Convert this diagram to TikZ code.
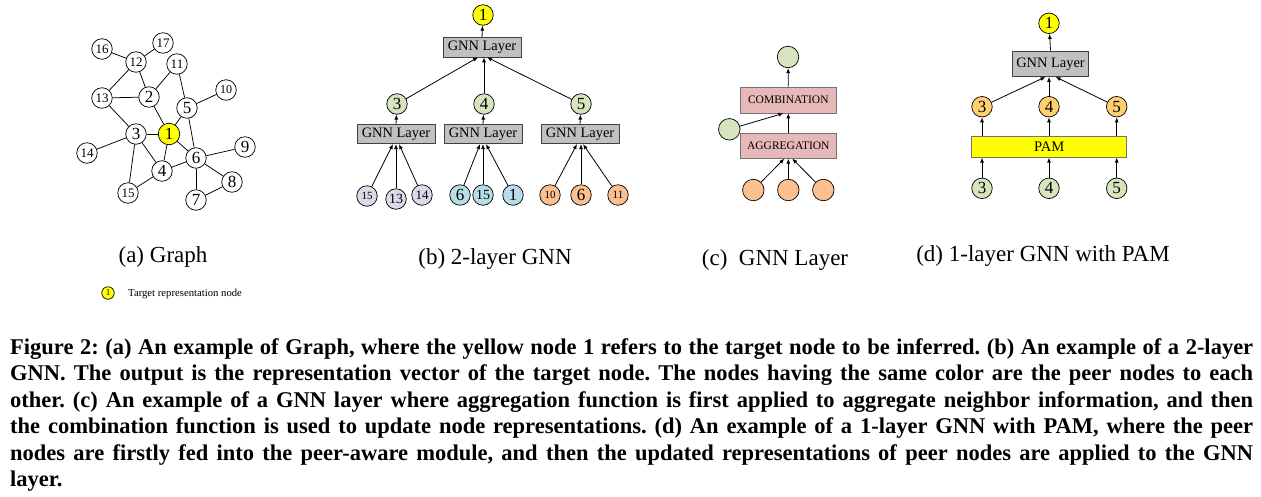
\documentclass[tikz,border=0pt]{standalone}
\usepackage{fontspec}
\setmainfont{Liberation Serif}
\usetikzlibrary{arrows.meta}
\definecolor{yl}{HTML}{FFFF00}
\definecolor{gr}{HTML}{D7E4BD}
\definecolor{lav}{HTML}{DDD8EA}
\definecolor{blu}{HTML}{B7DEE8}
\definecolor{org}{HTML}{FAC090}
\definecolor{orgd}{HTML}{FFD070}
\definecolor{gbox}{HTML}{C0C0C0}
\definecolor{pbox}{HTML}{E6B9B8}
\newcommand{\fs}[1]{\fontsize{#1pt}{#1pt}\selectfont}
\frenchspacing
\begin{document}
\begin{tikzpicture}[x=1pt,y=-1pt,
  gn/.style={circle,draw,line width=0.7pt,minimum size=20.5pt,inner sep=0pt,font=\fs{17}},
  gs/.style={gn,font=\fs{13}},
  edge/.style={line width=0.75pt},
  arr/.style={line width=0.8pt,-{Latex[length=5pt,width=4pt]}},
  gnnbox/.style={draw=black!75,fill=gbox,line width=0.7pt,minimum width=78pt,minimum height=19.5pt,inner sep=0pt,font=\fs{14.4}},
  pinkbox/.style={draw=black!55,fill=pbox,line width=0.7pt,minimum width=96.5pt,minimum height=26pt,inner sep=0pt,font=\fs{11.5}},
  lbl/.style={font=\fs{23},anchor=base,inner sep=0pt},
  capline/.style={anchor=base west,inner sep=0pt,font=\fs{22.5}\bfseries}
]
\useasboundingbox (0,0) rectangle (1261,496);

% ---------- (a) Graph ----------
\node[gs] (g16) at (102,49) {16};
\node[gs] (g17) at (163,43) {17};
\node[gs] (g12) at (136,62) {12};
\node[gs] (g11) at (177,64) {11};
\node[gs] (g13) at (102,98) {13};
\node[gn] (g2) at (149,97) {2};
\node[gs,font=\fs{12}] (g10) at (226,90) {10};
\node[gn] (g5) at (187,108) {5};
\node[gn,fill=yl,minimum size=21.5pt] (g1) at (169,134) {1};
\node[gn] (g3) at (136,134) {3};
\node[gs] (g14) at (87,153) {14};
\node[gn] (g9) at (245,147) {9};
\node[gn] (g6) at (196,158) {6};
\node[gn] (g4) at (162,171) {4};
\node[gn] (g8) at (232,182) {8};
\node[gs] (g15) at (128,193) {15};
\node[gn] (g7) at (196,200) {7};
\foreach \a/\b in {16/12,17/12,12/13,12/2,13/2,13/3,2/11,2/1,11/5,5/10,5/1,5/6,1/3,1/4,1/6,3/14,3/4,3/15,15/4,4/6,6/9,6/8,6/7,7/8}
  \draw[edge] (g\a) -- (g\b);

\node[lbl] (la) at (163,262) {(a) Graph};
\node[circle,draw,fill=yl,line width=0.7pt,minimum size=12.5pt,inner sep=0pt,font=\fs{9}] (leg) at (108,293) {1};
\node[anchor=base west,inner sep=0pt,font=\fs{10.7}] (legt) at (128,296.5) {Target representation node};

% ---------- (b) 2-layer GNN ----------
\node[gn,fill=yl] (bt) at (483,15) {1};
\node[gnnbox] (BT) at (482,47.2) {GNN Layer};
\node[gn,fill=gr] (b3) at (397,104) {3};
\node[gn,fill=gr] (b4) at (484,104) {4};
\node[gn,fill=gr] (b5) at (581,104) {5};
\node[gnnbox] (B1) at (396,134) {GNN Layer};
\node[gnnbox] (B2) at (483,134) {GNN Layer};
\node[gnnbox] (B3) at (580,134) {GNN Layer};
\node[gn,fill=lav,font=\fs{11}] (c15) at (367,196) {15};
\node[gn,fill=lav,font=\fs{14}] (c13) at (396,199) {13};
\node[gn,fill=lav,font=\fs{13}] (c14) at (422,195) {14};
\node[gn,fill=blu] (c6) at (460,195) {6};
\node[gn,fill=blu,font=\fs{14}] (c15b) at (483,195) {15};
\node[gn,fill=blu] (c1) at (513,195) {1};
\node[gn,fill=org,font=\fs{11}] (c10) at (550,195) {10};
\node[gn,fill=org] (c6b) at (581,195) {6};
\node[gn,fill=org,font=\fs{11}] (c11) at (618,195) {11};

\draw[arr] (BT.north) -- (bt);
\draw[arr] (b3) -- ([xshift=-4pt]BT.south);
\draw[arr] (b4) -- (b4 |- BT.south);
\draw[arr] (b5) -- ([xshift=5pt]BT.south);
\draw[arr] (B1.north) -- (b3);
\draw[arr] (B2.north) -- (b4);
\draw[arr] (B3.north) -- (b5);
\draw[arr] (c15) -- ([xshift=-3pt]B1.south);
\draw[arr] (c13) -- (B1.south);
\draw[arr] (c14) -- ([xshift=3pt]B1.south);
\draw[arr] (c6) -- ([xshift=-3pt]B2.south);
\draw[arr] (c15b) -- (B2.south);
\draw[arr] (c1) -- ([xshift=3pt]B2.south);
\draw[arr] (c10) -- ([xshift=-3pt]B3.south);
\draw[arr] (c6b) -- (c6b |- B3.south);
\draw[arr] (c11) -- ([xshift=3pt]B3.south);

\node[lbl] (lb) at (495,264) {(b) 2-layer GNN};

% ---------- (c) GNN Layer ----------
\node[gn,fill=gr,minimum size=21.5pt] (ct) at (788,57) {};
\node[pinkbox] (COMB) at (788.3,100) {COMBINATION};
\node[pinkbox,minimum height=25pt] (AGG) at (788.3,145.8) {AGGREGATION};
\node[gn,fill=gr,minimum size=21.5pt] (cl) at (729.3,129.3) {};
\node[gn,fill=org,minimum size=21.5pt] (d1) at (753.3,190) {};
\node[gn,fill=org,minimum size=21.5pt] (d2) at (788.3,190) {};
\node[gn,fill=org,minimum size=21.5pt] (d3) at (823.3,190) {};
\draw[arr] (COMB.north) -- (ct);
\draw[arr] (AGG.north) -- (COMB.south);
\draw[arr] (cl) -- ([xshift=-5pt]COMB.south);
\draw[arr] (d1) -- ([xshift=-4pt]AGG.south);
\draw[arr] (d2) -- (AGG.south);
\draw[arr] (d3) -- ([xshift=4pt]AGG.south);

\node[lbl] (lc) at (775,265) {(c)\ \ GNN Layer};

% ---------- (d) 1-layer GNN with PAM ----------
\node[gn,fill=yl] (e1) at (1049,23.3) {1};
\node[gnnbox,minimum width=75.5pt,minimum height=25.5pt] (EG) at (1050.5,63.8) {GNN Layer};
\node[gn,fill=orgd] (m3) at (982,106.7) {3};
\node[gn,fill=orgd] (m4) at (1049,106.7) {4};
\node[gn,fill=orgd] (m5) at (1116.7,106.7) {5};
\node[draw=black!55,fill=yl,line width=0.7pt,minimum width=155pt,minimum height=20.5pt,inner sep=0pt,font=\fs{14.6}] (PAM) at (1049.2,147) {PAM};
\node[gn,fill=gr] (n3) at (982,188.3) {3};
\node[gn,fill=gr] (n4) at (1049,188.3) {4};
\node[gn,fill=gr] (n5) at (1116.7,188.3) {5};
\draw[arr] (EG.north) -- (e1);
\draw[arr] (m3) -- ([xshift=-5pt]EG.south);
\draw[arr] (m4) -- (m4 |- EG.south);
\draw[arr] (m5) -- ([xshift=5pt]EG.south);
\draw[arr] (PAM.north -| m3) -- (m3);
\draw[arr] (PAM.north -| m4) -- (m4);
\draw[arr] (PAM.north -| m5) -- (m5);
\draw[arr] (n3) -- (n3 |- PAM.south);
\draw[arr] (n4) -- (n4 |- PAM.south);
\draw[arr] (n5) -- (n5 |- PAM.south);

\node[lbl] (ld) at (1043,261) {(d) 1-layer GNN with PAM};

% ---------- caption ----------
\node[capline] (cap1) at (10,354) {\makebox[1243pt][s]{Figure 2: (a) An example of Graph, where the yellow node 1 refers to the target node to be inferred. (b) An example of a 2-layer}};
\node[capline] (cap2) at (10,380.5) {\makebox[1243pt][s]{GNN. The output is the representation vector of the target node. The nodes having the same color are the peer nodes to each}};
\node[capline] (cap3) at (10,407) {\makebox[1243pt][s]{other. (c) An example of a GNN layer where aggregation function is first applied to aggregate neighbor information, and then}};
\node[capline] (cap4) at (10,433.5) {\makebox[1243pt][s]{the combination function is used to update node representations. (d) An example of a 1-layer GNN with PAM, where the peer}};
\node[capline] (cap5) at (10,460) {\makebox[1243pt][s]{nodes are firstly fed into the peer-aware module, and then the updated representations of peer nodes are applied to the GNN}};
\node[capline] (cap6) at (10,486.5) {layer.};
\end{tikzpicture}
\end{document}
